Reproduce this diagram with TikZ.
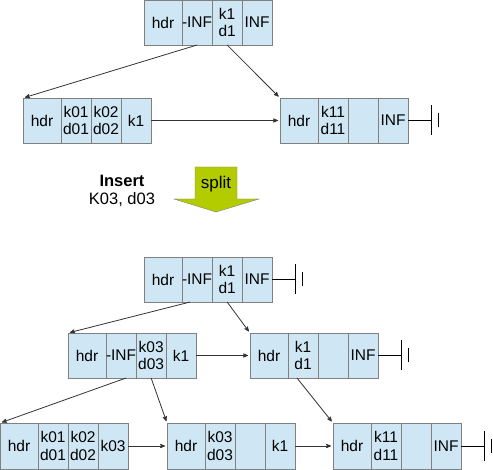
\documentclass[tikz,border=0pt]{standalone}
\usepackage{fontspec}
\setmainfont{Liberation Sans}
\usepackage{tikz}
\usetikzlibrary{arrows}
\usetikzlibrary{positioning}
\definecolor{cellblue}{RGB}{207,231,245}
\definecolor{cellgray}{RGB}{128,128,128}
\definecolor{splitgreen}{RGB}{179,204,0}
\definecolor{linkgray}{RGB}{51,51,51}
\tikzset{
    cell/.style={
           rectangle,
           draw=cellgray, fill=cellblue, thick,
           minimum width=30pt,
           minimum height=45pt,
           inner sep=0pt, outer sep=0pt,
           align=center,
           font=\fontsize{15.5}{17.7}\selectfont,
           },
    hdrcell/.style={cell, minimum width=38pt},
    link/.style={->, color=linkgray, thick, shorten >=2pt},
    ground/.style={draw=black, thick},
}

\begin{document}
\begin{tikzpicture}[x=1pt,y=-1pt,>=stealth']
\useasboundingbox (0,0) rectangle (493,470);

 % before the split: root
 \node[hdrcell, anchor=north west] (RootHdr) at (144,0) {hdr};
 \node[cell, right=0pt of RootHdr] (RootMin) {-INF};
 \node[cell, right=0pt of RootMin] (RootK1) {k1\\d1};
 \node[cell, right=0pt of RootK1] (RootInf) {INF};

 % before the split: leaves
 \node[hdrcell, anchor=north west] (LeftHdr) at (23,98) {hdr};
 \node[cell, right=0pt of LeftHdr] (LeftK01) {k01\\d01};
 \node[cell, right=0pt of LeftK01] (LeftK02) {k02\\d02};
 \node[cell, right=0pt of LeftK02] (LeftK1) {k1};

 \node[hdrcell, anchor=north west] (RightHdr) at (280,98) {hdr};
 \node[cell, right=0pt of RightHdr] (RightK11) {k11\\d11};
 \node[cell, right=0pt of RightK11] (RightFree) {};
 \node[cell, right=0pt of RightFree] (RightInf) {INF};

 % insert and split
 \node[align=center, font=\fontsize{16.5}{18}\selectfont] (Insert) at (122,191)
 {\textbf{Insert}\\K03, d03};
 \draw[draw=cellgray, fill=splitgreen] (195,167) -- (237,167) -- (237,199)
   -- (259,199) -- (216,212) -- (174,199) -- (195,199) -- cycle;
 \node[font=\fontsize{17}{20}\selectfont] (Split) at (216,184) {split};

 % after the split: root
 \node[hdrcell, anchor=north west] (NRootHdr) at (144,257) {hdr};
 \node[cell, right=0pt of NRootHdr] (NRootMin) {-INF};
 \node[cell, right=0pt of NRootMin] (NRootK1) {k1\\d1};
 \node[cell, right=0pt of NRootK1] (NRootInf) {INF};

 % after the split: inner nodes
 \node[hdrcell, anchor=north west] (NLeftHdr) at (68,333) {hdr};
 \node[cell, right=0pt of NLeftHdr] (NLeftMin) {-INF};
 \node[cell, right=0pt of NLeftMin] (NLeftK03) {k03\\d03};
 \node[cell, right=0pt of NLeftK03] (NLeftK1) {k1};

 \node[hdrcell, anchor=north west] (NRightHdr) at (250,333) {hdr};
 \node[cell, right=0pt of NRightHdr] (NRightK1) {k1\\d1};
 \node[cell, right=0pt of NRightK1] (NRightFree) {};
 \node[cell, right=0pt of NRightFree] (NRightInf) {INF};

 % after the split: leaves
 \node[hdrcell, anchor=north west, minimum height=46pt] (LeafAHdr) at (0,423) {hdr};
 \node[cell, minimum height=46pt, right=0pt of LeafAHdr] (LeafAK01) {k01\\d01};
 \node[cell, minimum height=46pt, right=0pt of LeafAK01] (LeafAK02) {k02\\d02};
 \node[cell, minimum height=46pt, right=0pt of LeafAK02] (LeafAK03) {k03};

 \node[hdrcell, anchor=north west, minimum height=46pt] (LeafBHdr) at (167,423) {hdr};
 \node[cell, minimum height=46pt, right=0pt of LeafBHdr] (LeafBK03) {k03\\d03};
 \node[cell, minimum height=46pt, right=0pt of LeafBK03] (LeafBFree) {};
 \node[cell, minimum height=46pt, right=0pt of LeafBFree] (LeafBK1) {k1};

 \node[hdrcell, anchor=north west, minimum height=46pt] (LeafCHdr) at (333,423) {hdr};
 \node[cell, minimum height=46pt, right=0pt of LeafCHdr] (LeafCK11) {k11\\d11};
 \node[cell, minimum height=46pt, right=0pt of LeafCK11] (LeafCFree) {};
 \node[cell, minimum height=46pt, right=0pt of LeafCFree] (LeafCInf) {INF};

 % draw the links
 \path[link]
 (RootMin.south)   edge (LeftHdr.north west)
 (RootK1.south)    edge (RightHdr.north west)
 (LeftK1.east)     edge (RightHdr.west)
 ([xshift=-7pt]NRootMin.south) edge (NLeftHdr.north west)
 (NRootK1.south)   edge (NRightHdr.north west)
 (NLeftK1.east)    edge (NRightHdr.west)
 ([xshift=5pt]NLeftMin.south)  edge (LeafAHdr.north west)
 (NLeftK03.south)  edge (LeafBHdr.north west)
 ([xshift=-6pt]NRightK1.south) edge (LeafCHdr.north west)
 (LeafAK03.east)   edge (LeafBHdr.west)
 (LeafBK1.east)    edge (LeafCHdr.west);

 % end of the chains
 \draw[ground] (RightInf.east) -- ++(23,0) ++(0,-15) -- ++(0,30) ++(7,-8) -- ++(0,-14);
 \draw[ground] (NRootInf.east) -- ++(23,0) ++(0,-15) -- ++(0,30) ++(7,-8) -- ++(0,-14);
 \draw[ground] (NRightInf.east) -- ++(23,0) ++(0,-15) -- ++(0,30) ++(7,-8) -- ++(0,-14);
 \draw[ground] (LeafCInf.east) -- ++(23,0) ++(0,-15) -- ++(0,30) ++(7,-8) -- ++(0,-14);

\end{tikzpicture}
\end{document}
